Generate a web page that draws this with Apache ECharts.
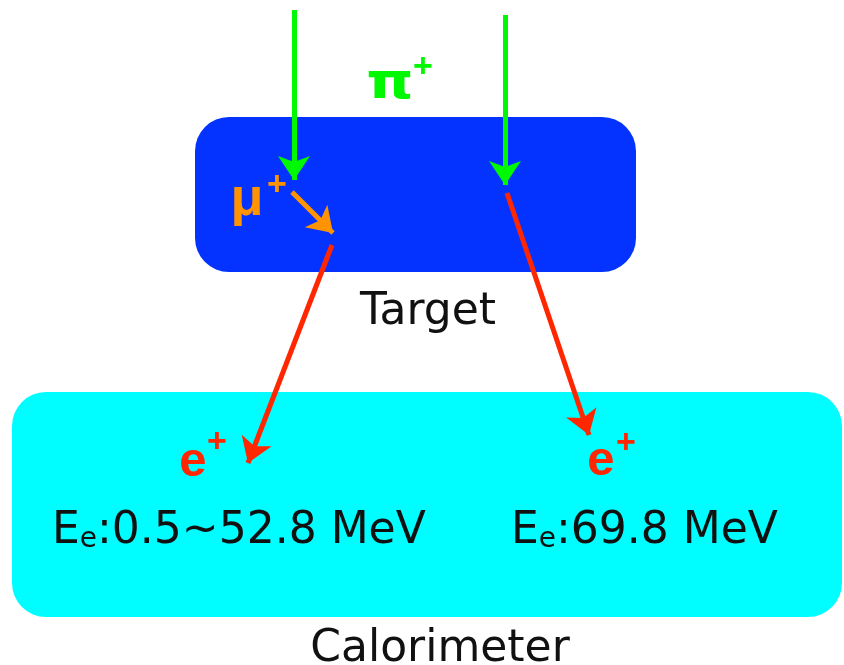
<!DOCTYPE html>
<html><head><meta charset="utf-8">
<script src="https://cdn.jsdelivr.net/npm/echarts@6/dist/echarts.min.js"></script>
<style>html,body{margin:0;padding:0;background:#fff}#c{width:844px;height:665px}</style>
</head><body><div id="c"></div>
<script>
// ---- Detector regions (diagram coordinates: x right, y down) ----
const boxNames  = ['Target', 'Calorimeter'];
const boxLeft   = [195, 12];
const boxTop    = [117, 392];
const boxRight  = [636, 842];
const boxBottom = [272, 617];
const boxKind   = ['target', 'calo'];

// ---- Particle tracks (start -> arrow tip) ----
const trackNames = ['π+ stopping', 'π+ → e+ν', 'μ+', 'e+ from μ decay', 'e+ from π decay'];
const trackX0 = [294, 505, 292, 332, 507];
const trackY0 = [10, 15, 192, 245, 193];
const trackX1 = [294, 505, 333, 248, 589];
const trackY1 = [180, 185, 233, 463, 435];
const trackKind = ['pi', 'pi', 'mu', 'e', 'e'];

// ---- Labels ----
const labelText = ['Target', 'Calorimeter', 'π', '+', 'μ', '+', 'e', '+', 'e', '+',
  '{m|E}{s|e}{m|:0.5~52.8 MeV}', '{m|E}{s|e}{m|:69.8 MeV}'];
const labelX = [428, 440, 390, 423, 247, 277, 193, 217, 601, 626, 52, 511];
const labelY = [313, 650, 85, 68, 200, 186, 462, 443, 461, 444, 532, 532];
const labelKind = ['name', 'name', 'pi', 'piSup', 'mu', 'muSup', 'e', 'eSup', 'e', 'eSup', 'energy', 'energy'];

// ---- styles (kept apart from the data) ----
const colors = { pi: '#00F900', mu: '#FF9300', e: '#FF2600', target: '#0433FF', calo: '#00FDFF' };
const textStyles = {
  name:   { font: '44px "DejaVu Sans"', fill: '#111', align: 'center', sx: 1 },
  pi:     { font: 'bold 50px "DejaVu Sans"', fill: colors.pi, align: 'center', sx: 1.2 },
  piSup:  { font: 'bold 34px "Liberation Sans"', fill: colors.pi, align: 'center', sx: 1 },
  mu:     { font: 'bold 54px "Liberation Sans"', fill: colors.mu, align: 'center', sx: 1 },
  muSup:  { font: 'bold 34px "Liberation Sans"', fill: colors.mu, align: 'center', sx: 1 },
  e:      { font: 'bold 49px "Liberation Sans"', fill: colors.e, align: 'center', sx: 1 },
  eSup:   { font: 'bold 34px "Liberation Sans"', fill: colors.e, align: 'center', sx: 1 },
  energy: { font: '44px "DejaVu Sans"', fill: '#111', align: 'left', sx: 1 }
};
const energyRich = {
  m: { fontFamily: 'DejaVu Sans', fontSize: 44, color: '#111' },
  s: { fontFamily: 'DejaVu Sans', fontSize: 28, color: '#111', verticalAlign: 'bottom' }
};

const chart = echarts.init(document.getElementById('c'), null, { renderer: 'canvas' });

const boxData = boxNames.map((n, i) => ({ name: n, value: [boxLeft[i], boxTop[i], boxRight[i], boxBottom[i], i] }));
const trackData = trackNames.map((n, i) => ({
  name: n,
  coords: [[trackX0[i], trackY0[i]], [trackX1[i], trackY1[i]]],
  lineStyle: { color: colors[trackKind[i]] }
}));
const labelData = labelText.map((t, i) => [labelX[i], labelY[i], i]);

chart.setOption({
  animation: false,
  backgroundColor: '#fff',
  grid: { left: 0, right: 0, top: 0, bottom: 0 },
  xAxis: { type: 'value', min: 0, max: 844, show: false },
  yAxis: { type: 'value', min: 0, max: 665, inverse: true, show: false },
  series: [
    {
      type: 'custom', name: 'regions', z: 1,
      data: boxData,
      renderItem: (params, api) => {
        const p0 = api.coord([api.value(0), api.value(1)]);
        const p1 = api.coord([api.value(2), api.value(3)]);
        const k = boxKind[api.value(4)];
        return { type: 'rect',
          shape: { x: p0[0], y: p0[1], width: p1[0] - p0[0], height: p1[1] - p0[1], r: 34 },
          style: { fill: colors[k] } };
      }
    },
    {
      type: 'lines', name: 'tracks', coordinateSystem: 'cartesian2d', z: 3,
      symbol: ['none', 'arrow'], symbolSize: [26, 24], symbolOffset: [0, 12],
      lineStyle: { width: 5, opacity: 1, curveness: 0 },
      data: trackData
    },
    {
      type: 'custom', name: 'labels', z: 5,
      data: labelData,
      renderItem: (params, api) => {
        const p = api.coord([api.value(0), api.value(1)]);
        const i = api.value(2);
        const st = textStyles[labelKind[i]];
        const style = { text: labelText[i], font: st.font, fill: st.fill, align: st.align, verticalAlign: 'middle' };
        if (labelKind[i] === 'energy') style.rich = energyRich;
        return { type: 'text', x: p[0], y: p[1], scaleX: st.sx, style: style };
      }
    }
  ]
});
</script></body></html>
